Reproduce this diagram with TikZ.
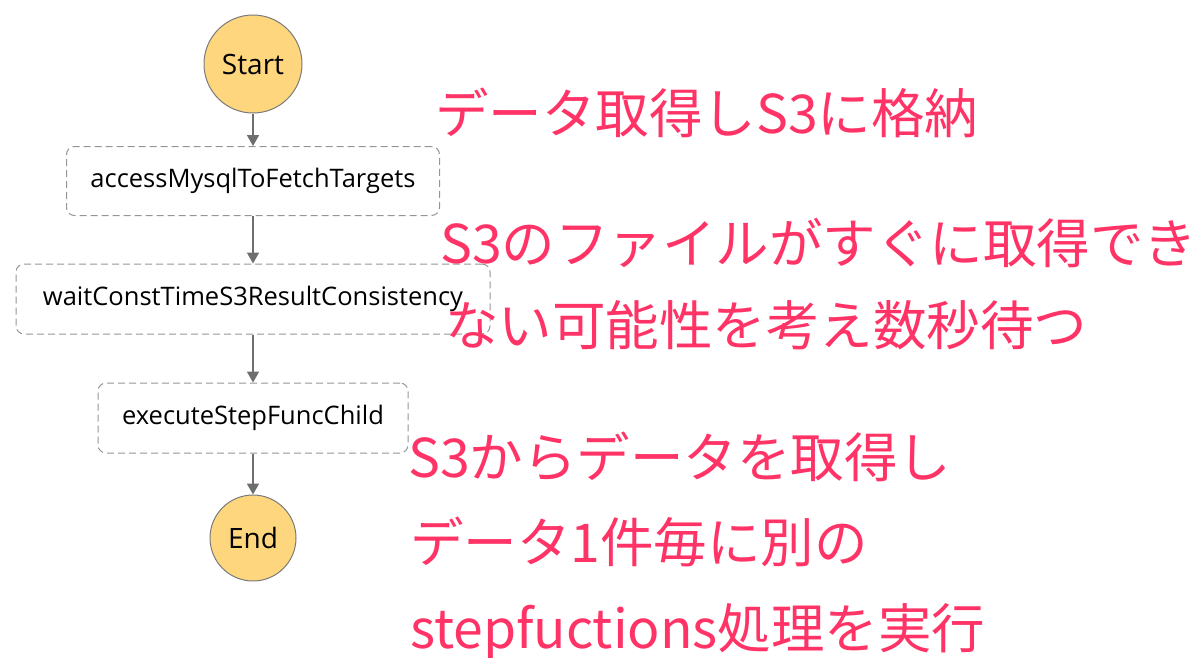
\documentclass[tikz,border=0pt]{standalone}
\usepackage{fontspec}
\setmainfont{Open Sans}
\newfontfamily\jpfont{Noto Sans CJK JP}
\usetikzlibrary{arrows.meta}
\definecolor{stateyellow}{HTML}{FDD67E}
\definecolor{stategray}{HTML}{7A7A7A}
\definecolor{notered}{HTML}{FF3366}
\tikzset{
  terminal/.style={circle,draw=stategray,fill=stateyellow,line width=1pt,font=\fontsize{28}{32}\selectfont},
  task/.style={rectangle,rounded corners=8pt,draw=stategray!80,dash pattern=on 7pt off 4pt,line width=1pt,font=\fontsize{25.5}{30}\selectfont},
  flow/.style={-{Triangle[width=12pt,length=11pt]},draw=stategray!90!black,line width=1.8pt},
  note/.style={anchor=base west,text=notered,inner sep=0pt,font=\jpfont\fontsize{53.5}{60}\selectfont}
}
\begin{document}
\begin{tikzpicture}[x=1pt,y=-1pt]
		\useasboundingbox (0,0) rectangle (1200,657);
		% state machine
		\node[terminal,minimum size=98pt] (start) at (253,64) {Start};
		\node[task,minimum width=373pt,minimum height=69pt] (fetch) at (253,181) {accessMysqlToFetchTargets};
		\node[task,minimum width=474pt,minimum height=70pt] (wait) at (253,299) {waitConstTimeS3ResultConsistency};
		\node[task,minimum width=310pt,minimum height=70pt] (child) at (253,418) {executeStepFuncChild};
		\node[terminal,minimum size=86pt] (end) at (253,538) {End};
		\draw[flow] (start) -- (fetch);
		\draw[flow] (fetch) -- (wait);
		\draw[flow] (wait) -- (child);
		\draw[flow] (child) -- (end);
		% notes
		\node[note] (note1) at (435,133) {データ取得しS3に格納};
		\node[note] (note2a) at (440,263) {S3のファイルがすぐに取得でき};
		\node[note] (note2b) at (445,345) {ない可能性を考え数秒待つ};
		\node[note] (note3a) at (408,477) {S3からデータを取得し};
		\node[note] (note3b) at (410,562) {データ1件毎に別の};
		\node[note] (note3c) at (410,648) {stepfuctions処理を実行};
	\end{tikzpicture}
\end{document}
